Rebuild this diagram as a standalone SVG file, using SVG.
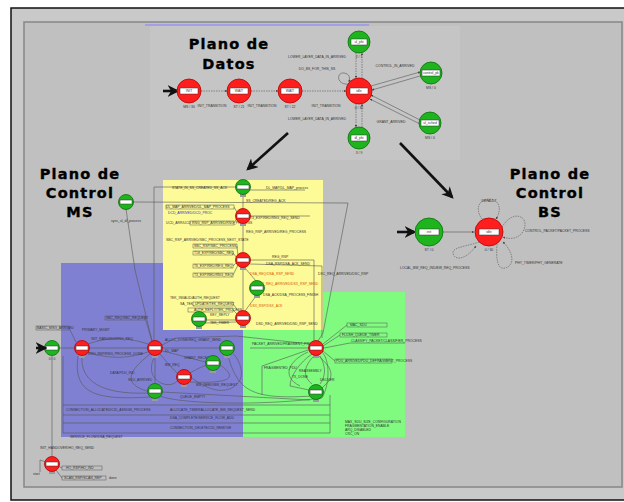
<svg xmlns="http://www.w3.org/2000/svg" width="624" height="502" viewBox="0 0 624 502">
<style>
.title{font-family:"DejaVu Sans",sans-serif;font-weight:bold;font-size:14.5px;letter-spacing:1.2px;text-anchor:middle;fill:#000;stroke:#000;stroke-width:.35}
.s{font-family:"Liberation Sans",sans-serif;font-size:3.4px;fill:#333}
.so{font-family:"Liberation Sans",sans-serif;font-size:3.4px;fill:#e05000}
.c{text-anchor:middle}
.red{fill:#ff1e1e;stroke:#b40000;stroke-width:.8}
.grn{fill:#1eb41e;stroke:#0a6e0a;stroke-width:.8}
.lbl{fill:#fff;stroke:#333;stroke-width:.5}
.ped{fill:#9a9aa6}
.ln{fill:none;stroke:#555;stroke-width:.6}
.lnd{fill:none;stroke:#555;stroke-width:.6;stroke-dasharray:1.5 1}
.box{fill:none;stroke:#555;stroke-width:.5}
.big{fill:none;stroke:#111;stroke-width:2.6}
</style>
<defs>
<marker id="ah" viewBox="0 0 10 10" refX="9" refY="5" markerWidth="4" markerHeight="4" orient="auto"><path d="M0,0 L10,5 L0,10 z" fill="#444"/></marker>
<marker id="bh" viewBox="0 0 10 10" refX="8" refY="5" markerWidth="4.5" markerHeight="4.5" orient="auto"><path d="M0,0 L10,5 L0,10 L3,5 z" fill="#111"/></marker>
</defs>

<!-- window frame -->
<rect x="0" y="0" width="624" height="502" fill="#fff"/>
<rect x="11" y="8" width="620" height="492" fill="#c9c9c9" stroke="#111" stroke-width="1.5"/>
<rect x="24" y="22" width="598" height="465" fill="#c0c0c0" stroke="#8a8a8a" stroke-width="1.6"/>

<!-- data plane panel -->
<rect x="150" y="26" width="310" height="134" fill="#c5c5c5"/>
<line x1="145" y1="25" x2="369" y2="25" stroke="#a0a0e6" stroke-width="2"/>

<!-- control plane MS regions -->
<rect id="zone_blue" x="61" y="263" width="182" height="174" fill="#8080d2"/>
<rect id="zone_green" x="243" y="292" width="162" height="145" fill="#80fb80"/>
<rect id="zone_yellow" x="163" y="180" width="160" height="150" fill="#fdfb97"/>

<!-- titles -->
<text class="title" x="229" y="49">Plano de</text>
<text class="title" x="229" y="69">Datos</text>
<text class="title" x="80" y="179">Plano de</text>
<text class="title" x="80" y="198">Control</text>
<text class="title" x="80" y="217">MS</text>
<text class="title" x="550" y="179">Plano de</text>
<text class="title" x="550" y="198">Control</text>
<text class="title" x="550" y="217">BS</text>

<!-- connectors -->
<g id="connectors">
  <!-- data plane -->
  <line class="big" x1="163" y1="91" x2="177" y2="91" marker-end="url(#bh)"/>
  <line class="lnd" x1="201" y1="91" x2="227" y2="91" marker-end="url(#ah)"/>
  <line class="lnd" x1="251" y1="91" x2="278" y2="91" marker-end="url(#ah)"/>
  <line class="lnd" x1="302" y1="91" x2="346" y2="91" marker-end="url(#ah)"/>
  <line class="lnd" x1="356" y1="53" x2="356" y2="78" marker-end="url(#ah)"/>
  <line class="lnd" x1="362" y1="78" x2="362" y2="53" marker-end="url(#ah)"/>
  <line class="lnd" x1="356" y1="104" x2="356" y2="127" marker-end="url(#ah)"/>
  <line class="lnd" x1="362" y1="127" x2="362" y2="104" marker-end="url(#ah)"/>
  <line class="ln" x1="371" y1="86" x2="420" y2="72" marker-end="url(#ah)"/>
  <line class="ln" x1="420" y1="76" x2="372" y2="90" marker-end="url(#ah)"/>
  <line class="ln" x1="420" y1="120" x2="371" y2="95" marker-end="url(#ah)"/>
  <line class="ln" x1="420" y1="124" x2="370" y2="99" marker-end="url(#ah)"/>
  <path class="ln" d="M350,84 C336,86 336,72 344,73 C350,74 350,78 349,82" marker-end="url(#ah)"/>
  <text class="s" x="212" y="107" text-anchor="middle">INIT_TRANSITION</text>
  <text class="s" x="262" y="107" text-anchor="middle">INIT_TRANSITION</text>
  <text class="s" x="326" y="107" text-anchor="middle">INIT_TRANSITION</text>
  <text class="s" x="317" y="58" text-anchor="middle">LOWER_LAYER_DATA_IN_ARRIVED</text>
  <text class="s" x="317" y="70" text-anchor="middle">DO_BS_FOR_THIS_SS</text>
  <text class="s" x="317" y="120" text-anchor="middle">LOWER_LAYER_DATA_IN_ARRIVED</text>
  <text class="s" x="395" y="67" text-anchor="middle">CONTROL_IN_ARRIVED</text>
  <text class="s" x="391" y="123" text-anchor="middle">GRANT_ARRIVED</text>

  <!-- plane arrows -->
  <line class="big" x1="288" y1="133" x2="248" y2="169" marker-end="url(#bh)"/>
  <line class="big" x1="400" y1="143" x2="452" y2="197" marker-end="url(#bh)"/>

  <!-- BS control plane -->
  <line class="big" x1="397" y1="232" x2="414" y2="232" marker-end="url(#bh)"/>
  <line class="ln" x1="443" y1="232" x2="474" y2="232" marker-end="url(#ah)"/>
  <path class="lnd" d="M482,219 C474,208 480,199 489,199 C498,199 503,208 496,219" marker-end="url(#ah)"/>
  <path class="lnd" d="M502,227 C510,214 520,214 524,220 C528,228 520,243 503,237" marker-end="url(#ah)"/>
  <path class="lnd" d="M497,244 C496,258 497,270 505,268 C514,266 515,254 503,242" marker-end="url(#ah)"/>
  <path class="lnd" d="M479,242 C468,246 454,247 453,252 C453,260 464,262 476,246" marker-end="url(#ah)"/>
  <text class="s" x="489" y="202" text-anchor="middle">DEFAULT</text>
  <text class="s" x="525" y="232">CONTROL_PACKET/PACKET_PROCESS</text>
  <text class="s" x="515" y="264">PHY_TIMER/PHY_GENERATE</text>
  <text class="s" x="400" y="269">LOCAL_BW_REQ_IND/BW_REQ_PROCESS</text>

  <!-- MS control plane -->
  <path class="ln" d="M243,187 L154,187 L154,342"/>
  <path class="ln" d="M133,202 L348,203 L323,333 L318,341"/>
  <path class="ln" d="M126,209 L135,270 L152,341"/>
  <line class="ln" x1="243" y1="195" x2="243" y2="209"/>
  <line class="ln" x1="243" y1="224" x2="243" y2="252"/>
  <line class="ln" x1="245" y1="268" x2="256" y2="281"/>
  <line class="ln" x1="256" y1="296" x2="245" y2="311"/>
  <path class="ln" d="M243,268 L243,310"/>
  <path class="ln" d="M250,260 L314,260 L314,340"/>
  <path class="ln" d="M250,264 L322,266 L322,338"/>
  <path class="ln" d="M250,216 L310,216"/>
  <path class="ln" d="M250,190 L305,190"/>
  <!-- yellow left label leaders -->
  <rect class="box" x="166" y="205" width="68" height="4"/>
  <rect class="box" x="190" y="221" width="44" height="4"/>
  <rect class="box" x="193" y="244" width="44" height="4"/>
  <rect class="box" x="193" y="251" width="40" height="4"/>
  <rect class="box" x="193" y="264" width="40" height="4"/>
  <rect class="box" x="193" y="273" width="40" height="4"/>
  <rect class="box" x="193" y="302" width="40" height="4"/>
  <rect class="box" x="188" y="308" width="45" height="4"/>
  <path class="ln" d="M234,207 L238,214"/>
  <path class="ln" d="M234,223 L237,218"/>
  <path class="ln" d="M237,246 L238,256"/>
  <path class="ln" d="M233,253 L237,258"/>
  <path class="ln" d="M233,266 L237,262"/>
  <path class="ln" d="M233,275 L238,265"/>
  <path class="ln" d="M233,304 L240,313"/>
  <path class="ln" d="M233,310 L238,315"/>
  <path class="ln" d="M205,320 L236,320"/>
  <path class="ln" d="M205,323 L236,322"/>
  <text class="s" x="172" y="189">STATE_IN_SS_CREATED_SS_ACK</text>
  <text class="s" x="266" y="189">DL_MAP/DL_MAP_process</text>
  <text class="s" x="166" y="208">UL_MAP_ARRIVED/UL_MAP_PROCESS</text>
  <text class="s" x="168" y="214" style="fill:#3030c0">DCD_ARRIVED/DCD_PROC</text>
  <text class="s" x="166" y="224">UCD_ARR/UCD</text>
  <text class="s" x="192" y="224">RNG_RSP_ARRIVED/RNG_PROCESS</text>
  <text class="s" x="246" y="202">SS_CREATED/REG_ACK</text>
  <text class="s" x="250" y="219">T3_EXPIRED/RNG_REQ_SEND</text>
  <text class="s" x="246" y="233">REG_RSP_ARRIVED/REG_PROCESS</text>
  <text class="s" x="166" y="241">SBC_RSP_ARRIVED/SBC_PROCESS_NEXT_STATE</text>
  <text class="s" x="194" y="247">SBC_RSP/SBC_PROCESS</text>
  <text class="s" x="194" y="254">T18_EXPIRED/SBC_REQ</text>
  <text class="s" x="194" y="267">T6_EXPIRED/REG_REQ</text>
  <text class="s" x="194" y="276">T3_EXPIRED/RNG_REQ</text>
  <text class="s" x="272" y="258">REG_RSP</text>
  <text class="s" x="266" y="265">DSA_RSP/DSA_ACK_SEND</text>
  <text class="so" x="250" y="275">DSA_REQ/DSA_RSP_SEND</text>
  <text class="so" x="257" y="285">DSX_REQ_ARRIVED/DSX_RSP_SEND</text>
  <text class="s" x="263" y="296">DSA_ACK/DSA_PROCESS_FINISH</text>
  <text class="so" x="250" y="307">DSX_RSP/DSX_ACK</text>
  <text class="s" x="170" y="299">TEK_INVALID/AUTH_REQUEST</text>
  <text class="s" x="180" y="305">SA_TEK_UPDATE/TEK_REQUEST</text>
  <text class="s" x="194" y="311">AUTH_REPLY/TEK_PROCESS</text>
  <text class="s" x="210" y="316">KEY_REPLY</text>
  <text class="s" x="210" y="324">TEK_TIMER</text>
  <text class="s" x="256" y="325">DSD_REQ_ARRIVED/DSD_RSP_SEND</text>
  <text class="s" x="318" y="275">DSC_REQ_ARRIVED/DSC_RSP</text>
  <!-- blue region -->
  <rect class="box" x="36" y="326" width="33" height="4"/>
  <rect class="box" x="105" y="316" width="40" height="4"/>
  <path class="ln" d="M69,328 L76,342"/>
  <path class="ln" d="M145,318 L152,341"/>
  <path class="ln" d="M60,348 L74,348"/>
  <path class="ln" d="M90,348 L147,348"/>
  <path class="ln" d="M88,344 C110,336 130,338 148,344"/>
  <path class="ln" d="M88,352 C110,360 130,358 148,352"/>
  <path class="ln" d="M162,348 L220,348"/>
  <path class="ln" d="M162,345 L176,338 L236,336 L310,344"/>
  <path class="ln" d="M162,351 C180,355 196,360 206,362"/>
  <path class="ln" d="M160,354 C170,366 176,372 178,374"/>
  <path class="ln" d="M190,373 C198,368 204,366 207,365"/>
  <path class="ln" d="M155,356 L155,384"/>
  <path class="ln" d="M150,354 C130,370 120,384 150,392"/>
  <path class="ln" d="M156,354 C140,380 170,392 178,380"/>
  <path class="ln" d="M82,356 C80,380 100,395 148,393"/>
  <path class="ln" d="M78,356 C72,396 100,400 150,397"/>
  <path class="ln" d="M192,378 C210,392 230,396 240,380 C245,370 236,355 233,354"/>
  <path class="ln" d="M228,356 C238,390 250,400 312,396"/>
  <path class="ln" d="M219,364 C236,376 236,384 190,382"/>
  <path class="ln" d="M162,392 L310,400"/>
  <path class="ln" d="M160,396 C180,404 260,406 322,398 C330,384 330,360 322,352"/>
  <path class="ln" d="M63,405 L330,405"/>
  <path class="ln" d="M63,415 L330,415"/>
  <path class="ln" d="M63,423 L330,423"/>
  <path class="ln" d="M63,433 L330,433 L330,395"/>
  <path class="ln" d="M63,356 L63,433"/>
  <path class="ln" d="M52,356 L52,456"/>
  <text class="s" x="37" y="329">BASIC_MSG_ARRIVED</text>
  <text class="s" x="82" y="331">PRIMARY_MGMT</text>
  <text class="s" x="106" y="319">SBC_REQ/SBC_REQUEST</text>
  <text class="s" x="91" y="340">INIT_RANGING/RNG_REQ</text>
  <text class="s" x="88" y="355">RNG_RSP/RNG_PROCESS_DONE</text>
  <text class="s" x="165" y="341">ALLOC_DONE/REQ_GRANT_SEND</text>
  <text class="s" x="165" y="352">DL_MAP</text>
  <text class="s" x="184" y="359">GRANT_RECEIVED</text>
  <text class="s" x="110" y="374">DATA/PDU_IND</text>
  <text class="s" x="128" y="381">SDU_ARRIVED</text>
  <text class="s" x="165" y="366">BW_REQ</text>
  <text class="s" x="196" y="386">BW_NEED/BW_REQUEST</text>
  <text class="s" x="180" y="398">QUEUE_EMPTY</text>
  <text class="s" x="66" y="411">CONNECTION_ALLOCATED/CID_ASSIGN_PROCESS</text>
  <text class="s" x="170" y="411">ALLOCATE_TIMER/ALLOCATE_BW_REQUEST_SEND</text>
  <text class="s" x="170" y="419">DSA_COMPLETE/SERVICE_FLOW_ADD</text>
  <text class="s" x="170" y="429">CONNECTION_DELETE/CID_REMOVE</text>
  <text class="s" x="70" y="438">SERVICE_FLOW/DSA_REQUEST</text>
  <!-- green region -->
  <rect class="box" x="347" y="323" width="40" height="4"/>
  <rect class="box" x="340" y="333" width="47" height="4"/>
  <rect class="box" x="335" y="359" width="57" height="4"/>
  <path class="ln" d="M323,344 L347,325"/>
  <path class="ln" d="M323,346 L340,335"/>
  <path class="ln" d="M324,348 L350,343 L405,343"/>
  <path class="ln" d="M323,351 L335,361"/>
  <path class="ln" d="M308,348 L250,348"/>
  <path class="ln" d="M312,354 C300,362 290,376 290,386 L309,390"/>
  <path class="ln" d="M318,355 C324,362 334,368 330,380 L322,388"/>
  <path class="ln" d="M308,352 C290,360 280,376 300,386"/>
  <path class="ln" d="M314,356 C304,366 302,376 312,384"/>
  <path class="ln" d="M320,356 C326,366 326,376 320,384"/>
  <path class="ln" d="M308,350 L262,366 L262,395"/>
  <text class="s" x="350" y="326">MAC_SDU</text>
  <text class="s" x="342" y="336">FLUSH_QUEUE_TIMER</text>
  <text class="s" x="351" y="342">CLASSIFY_PACKET/CLASSIFIER_PROCESS</text>
  <text class="s" x="336" y="362">PDU_ARRIVED/PDU_DEFRAGMENT_PROCESS</text>
  <text class="s" x="252" y="345">PACKET_ARRIVED/FRAGMENT_PROCESS</text>
  <text class="s" x="264" y="369">FRAGMENTED_PDU</text>
  <text class="s" x="299" y="372">REASSEMBLY</text>
  <text class="s" x="292" y="378">TX_DONE</text>
  <text class="s" x="320" y="381">DELIVER</text>
  <text class="s" x="345" y="423">MAX_SDU_SIZE_CONFIGURATION</text>
  <text class="s" x="345" y="427">FRAGMENTATION_ENABLE</text>
  <text class="s" x="345" y="431">ARQ_DISABLED</text>
  <text class="s" x="345" y="435">CRC_ON</text>
  <!-- bottom-left -->
  <rect class="box" x="62" y="466" width="40" height="4"/>
  <rect class="box" x="62" y="476" width="44" height="4"/>
  <path class="ln" d="M58,466 L62,468"/>
  <path class="ln" d="M56,470 L62,478"/>
  <path class="ln" d="M46,462 L40,460 L40,472"/>
  <text class="s" x="40" y="449">INIT_HANDOVER/HO_REQ_SEND</text>
  <text class="s" x="66" y="469">HO_RSP/HO_IND</text>
  <text class="s" x="64" y="479">SCAN_RSP/SCAN_REP</text>
  <text class="s" x="109" y="479">done</text>
  <text class="s" x="33" y="475">start</text>
</g>

<!-- data plane nodes -->
<g id="dp_init" transform="translate(189,91)"><circle r="12" class="red"/><rect class="lbl" x="-9" y="-3" width="18" height="6"/><text class="s c" y="1.2">INIT</text><text class="s c" y="17">MS / 30</text></g>
<g id="dp_wait_ul" transform="translate(239,91)"><circle r="12" class="red"/><rect class="lbl" x="-9" y="-3" width="18" height="6"/><text class="s c" y="1.2">WAIT</text><text class="s c" y="17">ST / 21</text></g>
<g id="dp_wait_dl" transform="translate(290,91)"><circle r="12" class="red"/><rect class="lbl" x="-9" y="-3" width="18" height="6"/><text class="s c" y="1.2">WAIT</text><text class="s c" y="17">ST / 22</text></g>
<g id="dp_idle" transform="translate(359,91)"><circle r="13" class="red"/><rect class="lbl" x="-9" y="-3" width="18" height="6"/><text class="s c" y="1.2">idle</text><text class="s c" y="18">0 / 30</text></g>
<g id="dp_ul_pkt" transform="translate(359,42)"><circle r="11" class="grn"/><rect class="lbl" x="-8" y="-3" width="16" height="6"/><text class="s c" y="1.2">ul_pkt</text><text class="s c" y="16">2 / 1</text></g>
<g id="dp_dl_pkt" transform="translate(359,138)"><circle r="11" class="grn"/><rect class="lbl" x="-8" y="-3" width="16" height="6"/><text class="s c" y="1.2">dl_pkt</text><text class="s c" y="16">3 / 9</text></g>
<g id="dp_control" transform="translate(431,73)"><circle r="11" class="grn"/><rect class="lbl" x="-9" y="-3" width="18" height="6"/><text class="s c" y="1.2">control_pk</text><text class="s c" y="16">MS / 0</text></g>
<g id="dp_grant" transform="translate(430,123)"><circle r="11" class="grn"/><rect class="lbl" x="-9" y="-3" width="18" height="6"/><text class="s c" y="1.2">ul_sched</text><text class="s c" y="16">MS / 0</text></g>

<!-- BS control plane nodes -->
<g id="bs_init" transform="translate(429,232)"><circle r="14" class="grn"/><rect class="lbl" x="-10" y="-3" width="20" height="6"/><text class="s c" y="1.2">init</text><text class="s c" y="19">ST / 0</text></g>
<g id="bs_idle" transform="translate(489,232)"><circle r="14" class="red"/><rect class="lbl" x="-10" y="-3" width="20" height="6"/><text class="s c" y="1.2">idle</text><text class="s c" y="19">0 / 30</text></g>

<!-- MS control plane nodes -->
<g id="ms_g1" transform="translate(126,202)"><circle r="7.5" class="grn"/><rect class="lbl" x="-6" y="-2" width="12" height="4"/><text class="s c" y="20">sync_ul_dl_process</text></g>
<g id="ms_g2" transform="translate(243,187)"><rect class="ped" x="-3" y="6" width="6" height="4"/><circle r="7.5" class="grn"/><rect class="lbl" x="-6" y="-2" width="12" height="4"/></g>
<g id="ms_r1" transform="translate(243,216)"><rect class="ped" x="-3" y="6" width="6" height="4"/><circle r="7.5" class="red"/><rect class="lbl" x="-6" y="-2" width="12" height="4"/></g>
<g id="ms_r2" transform="translate(243,260)"><rect class="ped" x="-3" y="6" width="6" height="4"/><circle r="7.5" class="red"/><rect class="lbl" x="-6" y="-2" width="12" height="4"/></g>
<g id="ms_g3" transform="translate(257,288)"><rect class="ped" x="-3" y="6" width="6" height="4"/><circle r="7.5" class="grn"/><rect class="lbl" x="-6" y="-2" width="12" height="4"/></g>
<g id="ms_r3" transform="translate(243,318)"><rect class="ped" x="-3" y="6" width="6" height="4"/><circle r="7.5" class="red"/><rect class="lbl" x="-6" y="-2" width="12" height="4"/></g>
<g id="ms_g4" transform="translate(199,319)"><rect class="ped" x="-3" y="6" width="6" height="4"/><circle r="7.5" class="grn"/><rect class="lbl" x="-6" y="-2" width="12" height="4"/></g>
<g id="ms_start" transform="translate(52,348)"><circle r="7.5" class="grn"/><rect class="lbl" x="-6" y="-2" width="12" height="4"/><text class="s c" y="12">0 / 0</text></g>
<line class="big" x1="36" y1="348" x2="45" y2="348" stroke-width="2.4" marker-end="url(#bh)"/>
<g id="ms_r4" transform="translate(82,348)"><rect class="ped" x="-3" y="6" width="6" height="4"/><circle r="7.5" class="red"/><rect class="lbl" x="-6" y="-2" width="12" height="4"/></g>
<g id="ms_r5" transform="translate(155,348)"><rect class="ped" x="-3" y="6" width="6" height="4"/><circle r="7.5" class="red"/><rect class="lbl" x="-6" y="-2" width="12" height="4"/></g>
<g id="ms_g6" transform="translate(227,348)"><rect class="ped" x="-3" y="6" width="6" height="4"/><circle r="7.5" class="grn"/><rect class="lbl" x="-6" y="-2" width="12" height="4"/></g>
<g id="ms_g7" transform="translate(213,363)"><rect class="ped" x="-3" y="6" width="6" height="4"/><circle r="7.5" class="grn"/><rect class="lbl" x="-6" y="-2" width="12" height="4"/></g>
<g id="ms_r6" transform="translate(184,377)"><rect class="ped" x="-3" y="6" width="6" height="4"/><circle r="7.5" class="red"/><rect class="lbl" x="-6" y="-2" width="12" height="4"/></g>
<g id="ms_g8" transform="translate(155,391)"><rect class="ped" x="-3" y="6" width="6" height="4"/><circle r="7.5" class="grn"/><rect class="lbl" x="-6" y="-2" width="12" height="4"/></g>
<g id="ms_r7" transform="translate(316,348)"><rect class="ped" x="-3" y="6" width="6" height="4"/><circle r="7.5" class="red"/><rect class="lbl" x="-6" y="-2" width="12" height="4"/></g>
<g id="ms_g9" transform="translate(316,392)"><rect class="ped" x="-3" y="6" width="6" height="4"/><circle r="7.5" class="grn"/><rect class="lbl" x="-6" y="-2" width="12" height="4"/></g>
<g id="ms_r8" transform="translate(52,464)"><rect class="ped" x="-3" y="6" width="6" height="4"/><circle r="7.5" class="red"/><rect class="lbl" x="-6" y="-2" width="12" height="4"/></g>
</svg>
